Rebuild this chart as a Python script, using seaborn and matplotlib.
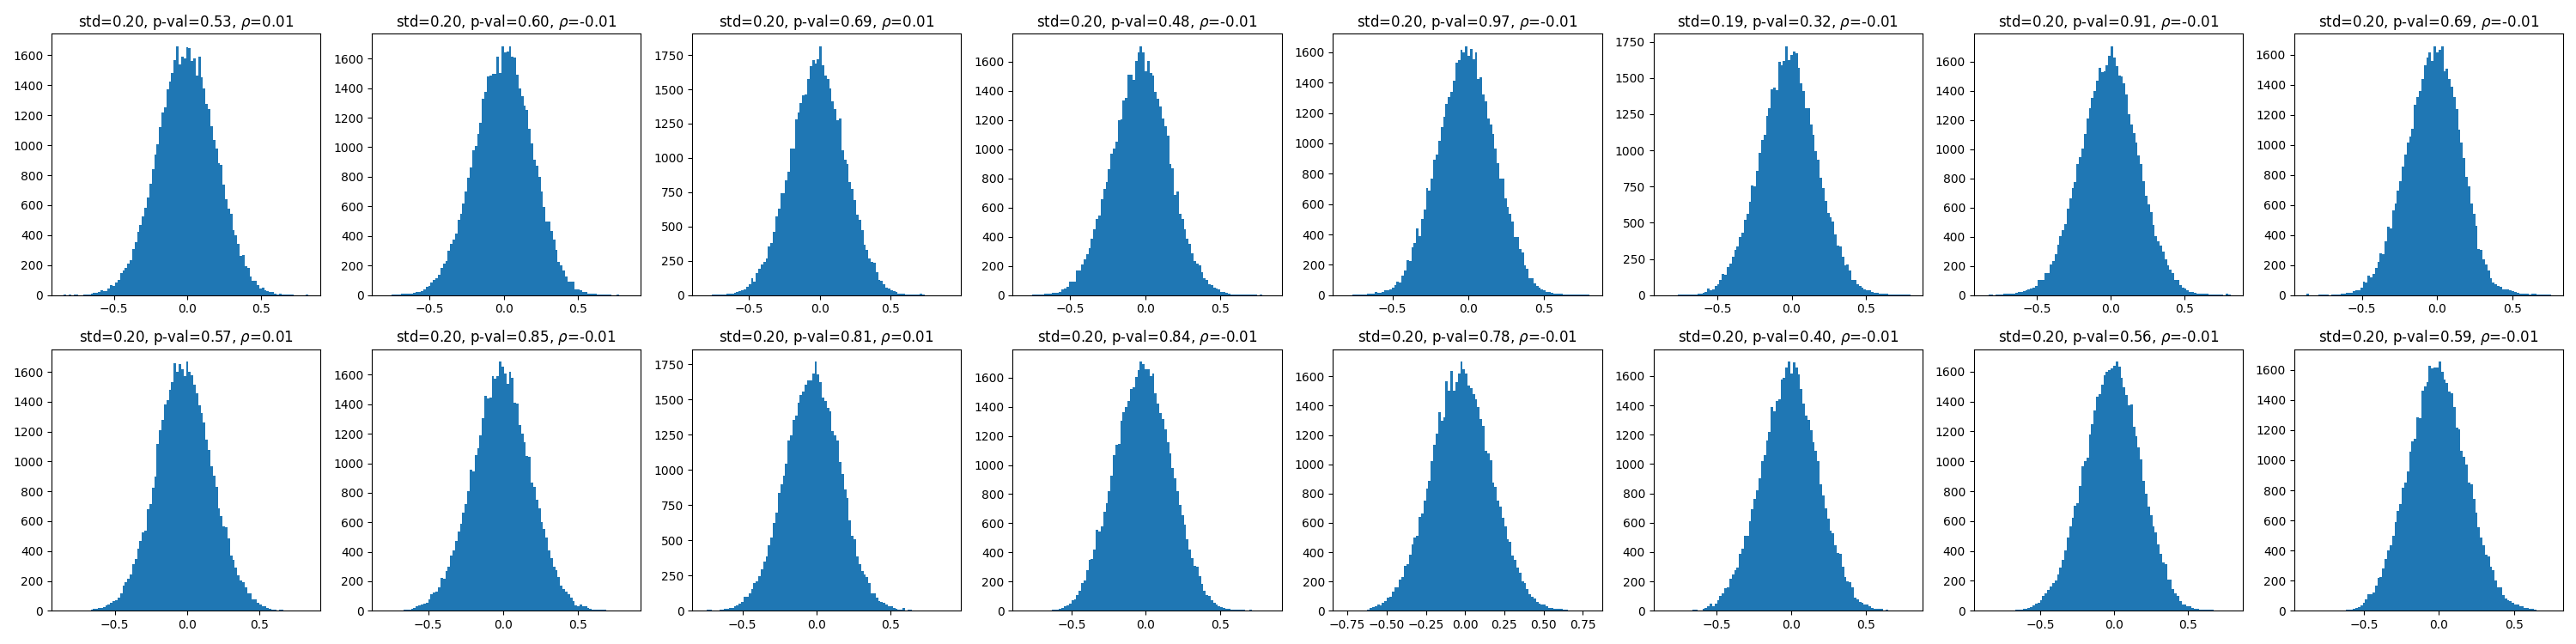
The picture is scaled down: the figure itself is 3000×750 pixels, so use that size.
import numpy as np
import pandas as pd
import matplotlib.pyplot as plt
import seaborn as sns

# panel titles
stds = [0.20, 0.20, 0.20, 0.20, 0.20, 0.19, 0.20, 0.20,
        0.20, 0.20, 0.20, 0.20, 0.20, 0.20, 0.20, 0.20]
pvals = [0.53, 0.60, 0.69, 0.48, 0.97, 0.32, 0.91, 0.69,
         0.57, 0.85, 0.81, 0.84, 0.78, 0.40, 0.56, 0.59]
rhos = [0.01, -0.01, 0.01, -0.01, -0.01, -0.01, -0.01, -0.01,
        0.01, -0.01, 0.01, -0.01, -0.01, -0.01, -0.01, -0.01]

# data range of each histogram (100 bins between lo and hi)
bin_lo = [-0.841, -0.807, -0.813, -0.801, -0.811, -0.846, -0.842, -0.869,
          -0.853, -0.793, -0.756, -0.815, -0.763, -0.843, -0.865, -0.881]
bin_hi = [0.823, 0.840, 0.911, 0.828, 0.800, 0.796, 0.809, 0.757,
          0.836, 0.836, 0.895, 0.832, 0.794, 0.799, 0.787, 0.745]

# bin counts
counts_1 = [6, 0, 5, 0, 6, 6, 1, 1, 2, 4,
            5, 10, 15, 15, 20, 35, 30, 30, 45, 70,
            60, 85, 100, 145, 165, 180, 210, 235, 310, 355,
            425, 470, 525, 580, 650, 745, 840, 935, 1005, 1120,
            1220, 1250, 1375, 1425, 1480, 1565, 1660, 1540, 1590, 1580,
            1655, 1645, 1560, 1580, 1465, 1590, 1455, 1380, 1275, 1240,
            1125, 1035, 975, 880, 870, 740, 640, 575, 545, 435,
            400, 340, 260, 265, 195, 180, 125, 95, 95, 65,
            45, 50, 35, 25, 20, 20, 10, 5, 8, 5,
            5, 5, 5, 3, 0, 0, 0, 0, 0, 4]
counts_2 = [1, 0, 1, 2, 3, 6, 7, 8, 8, 9,
            10, 13, 14, 20, 22, 28, 42, 58, 62, 86,
            105, 115, 138, 184, 215, 230, 300, 345, 376, 415,
            507, 553, 617, 699, 795, 864, 978, 1008, 1089, 1164,
            1330, 1377, 1481, 1485, 1498, 1498, 1615, 1500, 1683, 1642,
            1650, 1683, 1615, 1608, 1492, 1400, 1345, 1280, 1250, 1126,
            1026, 918, 876, 799, 701, 599, 499, 497, 434, 378,
            305, 225, 204, 167, 125, 94, 94, 94, 42, 38,
            33, 23, 21, 13, 12, 10, 9, 7, 6, 4,
            3, 2, 2, 1, 1, 7, 1, 0, 1, 1]
counts_3 = [1, 0, 0, 3, 4, 5, 6, 6, 7, 10,
            12, 13, 20, 22, 29, 35, 45, 62, 83, 124,
            100, 161, 195, 224, 242, 269, 356, 379, 462, 572,
            630, 741, 745, 839, 901, 1069, 1071, 1280, 1329, 1400,
            1454, 1464, 1574, 1671, 1715, 1690, 1719, 1814, 1677, 1603,
            1578, 1506, 1410, 1358, 1278, 1286, 1056, 990, 955, 826,
            777, 692, 584, 551, 472, 367, 331, 267, 242, 238,
            166, 110, 108, 77, 56, 46, 35, 31, 21, 14,
            14, 8, 6, 5, 5, 4, 3, 3, 8, 2,
            1, 1, 1, 0, 1, 0, 0, 0, 0, 1]
counts_4 = [1, 0, 1, 3, 5, 6, 6, 7, 10, 10,
            12, 14, 17, 18, 24, 39, 47, 55, 90, 90,
            90, 172, 168, 212, 247, 282, 325, 388, 452, 523,
            548, 658, 729, 772, 866, 967, 1005, 1050, 1199, 1206,
            1334, 1351, 1512, 1512, 1477, 1604, 1662, 1705, 1662, 1532,
            1606, 1522, 1506, 1394, 1345, 1293, 1210, 1159, 1095, 899,
            870, 689, 713, 558, 523, 454, 384, 353, 284, 231,
            215, 206, 157, 118, 106, 74, 71, 51, 43, 39,
            22, 20, 16, 10, 6, 6, 4, 4, 3, 5,
            6, 5, 5, 5, 4, 1, 2, 0, 0, 1]
counts_5 = [1, 1, 0, 6, 2, 3, 6, 6, 6, 9,
            9, 9, 19, 17, 15, 19, 32, 34, 41, 49,
            66, 90, 82, 131, 163, 230, 225, 315, 343, 438,
            390, 500, 562, 708, 688, 768, 895, 927, 1015, 1107,
            1174, 1258, 1303, 1337, 1412, 1530, 1548, 1618, 1599, 1640,
            1577, 1622, 1554, 1601, 1423, 1433, 1324, 1276, 1165, 1127,
            1062, 968, 871, 768, 768, 640, 584, 537, 487, 382,
            382, 307, 281, 195, 176, 112, 112, 79, 60, 52,
            41, 34, 22, 19, 15, 11, 10, 9, 8, 7,
            6, 6, 5, 6, 4, 4, 3, 3, 2, 6]
counts_6 = [1, 0, 1, 0, 1, 2, 4, 6, 6, 6,
            7, 7, 6, 8, 8, 14, 24, 47, 35, 39,
            63, 78, 106, 145, 141, 194, 218, 267, 310, 337,
            400, 432, 518, 563, 647, 759, 753, 857, 981, 1071,
            1107, 1236, 1289, 1420, 1432, 1413, 1613, 1589, 1618, 1719,
            1622, 1656, 1681, 1672, 1570, 1464, 1407, 1293, 1289, 1181,
            1108, 995, 938, 812, 742, 651, 569, 538, 506, 422,
            345, 337, 263, 204, 214, 169, 106, 106, 73, 61,
            51, 43, 37, 33, 20, 18, 14, 12, 12, 8,
            8, 6, 6, 5, 5, 6, 6, 4, 3, 5]
counts_7 = [1, 6, 2, 1, 4, 5, 5, 8, 8, 10,
            12, 12, 16, 20, 25, 29, 33, 39, 43, 49,
            63, 102, 106, 106, 153, 153, 213, 235, 282, 347,
            403, 443, 484, 595, 662, 732, 772, 901, 948, 1007,
            1105, 1210, 1281, 1351, 1400, 1469, 1555, 1528, 1536, 1575,
            1639, 1705, 1628, 1567, 1506, 1496, 1449, 1375, 1238, 1169,
            1111, 1046, 956, 897, 783, 682, 623, 568, 482, 403,
            368, 337, 298, 247, 204, 176, 153, 106, 106, 71,
            53, 43, 33, 24, 20, 16, 12, 11, 10, 8,
            8, 7, 6, 4, 3, 2, 2, 1, 8, 2]
counts_8 = [8, 0, 0, 1, 0, 2, 5, 5, 4, 1,
            2, 5, 5, 6, 8, 9, 14, 16, 18, 26,
            33, 33, 49, 92, 87, 131, 116, 144, 180, 223,
            277, 272, 357, 457, 444, 565, 611, 696, 760, 855,
            935, 1017, 1053, 1104, 1269, 1320, 1356, 1436, 1531, 1582,
            1613, 1556, 1656, 1615, 1633, 1656, 1487, 1505, 1438, 1389,
            1320, 1240, 1099, 1017, 915, 786, 724, 608, 539, 462,
            306, 303, 239, 205, 162, 113, 87, 75, 62, 56,
            41, 41, 36, 31, 26, 21, 15, 13, 12, 10,
            10, 7, 10, 8, 5, 5, 5, 5, 4, 2]
counts_9 = [1, 0, 0, 0, 0, 0, 0, 0, 1, 2,
            3, 6, 11, 11, 17, 17, 27, 36, 40, 55,
            67, 70, 89, 116, 166, 192, 215, 241, 310, 346,
            415, 466, 527, 538, 683, 717, 824, 900, 1117, 1208,
            1280, 1385, 1413, 1482, 1532, 1659, 1602, 1653, 1621, 1573,
            1668, 1598, 1579, 1516, 1455, 1379, 1322, 1261, 1147, 1075,
            970, 904, 828, 689, 634, 565, 557, 485, 371, 342,
            291, 238, 205, 190, 158, 118, 114, 76, 74, 51,
            42, 32, 29, 19, 13, 10, 6, 4, 6, 8,
            2, 1, 0, 1, 0, 0, 0, 0, 0, 1]
counts_10 = [1, 0, 1, 1, 2, 3, 3, 4, 5, 6,
             10, 13, 19, 29, 37, 44, 48, 56, 77, 115,
             125, 131, 160, 221, 217, 269, 298, 375, 410, 471,
             538, 587, 667, 725, 808, 956, 946, 1056, 1100, 1187,
             1308, 1458, 1437, 1448, 1590, 1571, 1590, 1688, 1656, 1606,
             1538, 1619, 1577, 1410, 1402, 1260, 1202, 1140, 1052, 1044,
             871, 840, 750, 692, 602, 552, 498, 410, 356, 298,
             275, 229, 173, 148, 129, 115, 90, 67, 38, 33,
             44, 33, 29, 19, 13, 10, 8, 8, 8, 8,
             6, 3, 2, 1, 1, 0, 1, 0, 0, 1]
counts_11 = [1, 8, 8, 3, 1, 1, 6, 6, 14, 14,
             20, 22, 32, 36, 50, 60, 97, 101, 125, 157,
             195, 207, 246, 292, 352, 385, 467, 521, 626, 699,
             838, 900, 957, 1043, 1212, 1248, 1355, 1387, 1480, 1530,
             1557, 1605, 1635, 1635, 1685, 1768, 1677, 1625, 1516, 1492,
             1440, 1416, 1275, 1248, 1212, 1057, 969, 862, 803, 644,
             530, 509, 385, 332, 282, 260, 242, 195, 125, 121,
             95, 68, 64, 56, 42, 34, 30, 20, 14, 10,
             6, 20, 2, 6, 6, 1, 0, 0, 0, 0,
             0, 0, 0, 0, 0, 0, 0, 0, 0, 1]
counts_12 = [1, 0, 0, 1, 1, 2, 2, 3, 3, 4,
             4, 5, 8, 10, 14, 18, 33, 39, 49, 72,
             80, 108, 135, 190, 209, 278, 352, 356, 420, 553,
             546, 581, 679, 737, 819, 925, 1066, 1140, 1144, 1301,
             1363, 1398, 1437, 1519, 1531, 1604, 1653, 1708, 1695, 1657,
             1659, 1608, 1629, 1492, 1424, 1355, 1316, 1246, 1154, 1081,
             978, 909, 821, 729, 655, 593, 491, 420, 362, 307,
             303, 235, 186, 135, 108, 102, 74, 57, 45, 33,
             27, 20, 14, 14, 10, 8, 8, 8, 7, 5,
             3, 3, 8, 2, 1, 0, 0, 1, 0, 1]
counts_13 = [1, 0, 1, 2, 2, 1, 2, 3, 3, 10,
             17, 25, 29, 41, 35, 52, 64, 89, 93, 132,
             161, 161, 210, 233, 309, 316, 382, 452, 501, 510,
             641, 662, 753, 837, 889, 1023, 1132, 1209, 1355, 1295,
             1322, 1566, 1504, 1640, 1504, 1559, 1617, 1700, 1652, 1621,
             1539, 1520, 1477, 1446, 1394, 1310, 1264, 1093, 1077, 1025,
             873, 844, 753, 714, 637, 578, 487, 468, 375, 345,
             297, 258, 200, 190, 146, 113, 93, 83, 58, 50,
             45, 41, 29, 19, 19, 16, 16, 12, 12, 10,
             10, 4, 4, 2, 1, 1, 0, 1, 0, 1]
counts_14 = [1, 0, 0, 0, 0, 0, 1, 0, 1, 1,
             2, 6, 6, 2, 4, 14, 19, 29, 48, 33,
             48, 72, 102, 120, 155, 158, 216, 249, 276, 294,
             385, 421, 512, 512, 611, 694, 763, 821, 902, 1020,
             1059, 1163, 1217, 1391, 1358, 1427, 1440, 1575, 1585, 1656,
             1697, 1617, 1691, 1656, 1613, 1511, 1411, 1331, 1300, 1231,
             1150, 1088, 1018, 864, 783, 700, 628, 547, 531, 444,
             396, 390, 300, 232, 199, 193, 160, 91, 77, 58,
             52, 44, 42, 33, 21, 15, 14, 14, 14, 3,
             8, 2, 1, 1, 0, 0, 0, 1, 0, 1]
counts_15 = [1, 0, 0, 0, 0, 0, 0, 1, 0, 1,
             2, 3, 6, 6, 8, 13, 13, 19, 25, 36,
             46, 55, 70, 101, 114, 142, 161, 184, 203, 241,
             290, 342, 404, 492, 567, 624, 700, 721, 837, 966,
             1004, 1027, 1177, 1251, 1338, 1433, 1452, 1513, 1575, 1600,
             1608, 1623, 1642, 1666, 1634, 1556, 1494, 1442, 1376, 1380,
             1234, 1167, 1091, 1015, 867, 784, 697, 640, 567, 526,
             442, 381, 326, 313, 209, 209, 146, 114, 101, 66,
             44, 42, 32, 32, 19, 15, 13, 10, 9, 6,
             6, 6, 5, 3, 2, 1, 1, 0, 0, 1]
counts_16 = [1, 0, 0, 0, 1, 0, 0, 1, 0, 1,
             1, 2, 2, 3, 3, 4, 7, 8, 10, 15,
             18, 23, 33, 54, 74, 108, 110, 121, 167, 218,
             223, 279, 346, 403, 433, 500, 590, 664, 710, 818,
             854, 928, 1056, 1123, 1141, 1287, 1277, 1464, 1490, 1518,
             1626, 1613, 1615, 1618, 1654, 1587, 1536, 1515, 1454, 1446,
             1351, 1218, 1205, 1064, 1023, 972, 849, 838, 744, 654,
             554, 485, 436, 372, 359, 292, 267, 203, 156, 154,
             105, 82, 69, 64, 54, 44, 41, 31, 28, 20,
             16, 13, 11, 8, 4, 3, 2, 1, 0, 1]

all_counts = [counts_1, counts_2, counts_3, counts_4, counts_5, counts_6,
              counts_7, counts_8, counts_9, counts_10, counts_11, counts_12,
              counts_13, counts_14, counts_15, counts_16]

fig, axes = plt.subplots(2, 8, figsize=(30, 7.5))

for i, ax in enumerate(axes.flat):
    # one row per bin: bin centre with its count as weight
    edges = np.linspace(bin_lo[i], bin_hi[i], 101)
    df = pd.DataFrame({'value': (edges[:-1] + edges[1:]) / 2,
                       'count': all_counts[i]})
    sns.histplot(data=df, x='value', weights='count', bins=100,
                 binrange=(bin_lo[i], bin_hi[i]), ax=ax,
                 color='#1f77b4', alpha=1.0, edgecolor='none', linewidth=0)
    ax.set_ylabel('')
    ax.set_xlabel('')
    ax.set_title(f"std={stds[i]:.2f}, p-val={pvals[i]:.2f}, $\\rho$={rhos[i]:.2f}")

fig.tight_layout()
fig.savefig('out.png', dpi=100)
